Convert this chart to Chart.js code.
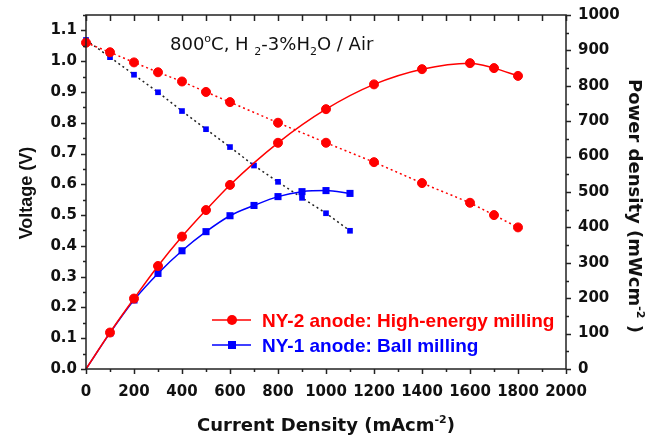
<!DOCTYPE html>
<html>
<head>
<meta charset="utf-8">
<script src="https://cdn.jsdelivr.net/npm/chart.js@4.4.1/dist/chart.umd.min.js"></script>
<style>
  html, body { margin: 0; padding: 0; background: #fff; }
  #wrap { width: 665px; height: 439px; }
</style>
</head>
<body>
<div id="wrap"><canvas id="chart" width="665" height="439"></canvas></div>
<script>
// data (current in mA/cm2, voltage in V, power in mW/cm2)
const currentNY2 = [0, 100, 200, 300, 400, 500, 600, 800, 1000, 1200, 1400, 1600, 1700, 1800];
const voltageNY2 = [1.06, 1.029, 0.996, 0.964, 0.934, 0.900, 0.867, 0.800, 0.735, 0.672, 0.604, 0.540, 0.500, 0.460];
const powerNY2 = [0, 103, 199, 291, 374, 449, 520, 639, 734, 804, 847, 864, 850, 828];

const currentNY1 = [0, 100, 200, 300, 400, 500, 600, 700, 800, 900, 1000, 1100];
const voltageNY1 = [1.069, 1.013, 0.956, 0.899, 0.838, 0.779, 0.721, 0.661, 0.608, 0.556, 0.506, 0.449];
const powerNY1 = [0, 102, 195, 270, 334, 388, 433, 462, 487, 501, 504, 496];

const labelNY2 = 'NY-2 anode: High-energy milling';
const labelNY1 = 'NY-1 anode: Ball milling';

const xRange = [0, 2000];
const voltRange = [0, 1.15];
const powerRange = [0, 1000];

const RED = '#ff0000';
const BLUE = '#0000ff';
const TICK_FONT = { family: 'DejaVu Sans', size: 15, weight: 'bold' };

function pts(xs, ys) {
    return xs.map((x, i) => ({ x: x, y: ys[i] }));
}

// draw a string made of normal / superscript / subscript parts
function richText(ctx, parts, x, y, size, weight, align) {
    const fam = 'DejaVu Sans';
    const widths = parts.map(p => {
        ctx.font = `${weight} ${p.s ? Math.round(size * 0.62) : size}px "${fam}"`;
        return ctx.measureText(p.t).width;
    });
    const total = widths.reduce((a, b) => a + b, 0);
    let cx = align === 'center' ? x - total / 2 : x;
    parts.forEach((p, i) => {
        ctx.font = `${weight} ${p.s ? Math.round(size * 0.62) : size}px "${fam}"`;
        let dy = 0;
        if (p.s === 'sup') dy = -size * 0.45;
        if (p.s === 'sub') dy = size * 0.3;
        ctx.fillText(p.t, cx, y + dy);
        cx += widths[i];
    });
    return total;
}

// keep the plot box where the figure has it
function noPad(s) {
    s.paddingTop = 0; s.paddingBottom = 0;
    s.paddingLeft = 0; s.paddingRight = 0;
}

const decor = {
    id: 'decor',
    afterDraw(chart) {
        const { ctx, chartArea: a } = chart;
        const sx = chart.scales.x, sy = chart.scales.y, sy2 = chart.scales.y2;
        ctx.save();

        // frame + ticks
        ctx.strokeStyle = '#222';
        ctx.lineWidth = 1.5;
        ctx.strokeRect(a.left, a.top, a.right - a.left, a.bottom - a.top);
        ctx.beginPath();
        for (let v = xRange[0]; v <= xRange[1]; v += 100) {
            const px = Math.round(sx.getPixelForValue(v)) + 0.5;
            const len = v % 200 === 0 ? 5 : 3;
            ctx.moveTo(px, a.bottom); ctx.lineTo(px, a.bottom + len);
            ctx.moveTo(px, a.top); ctx.lineTo(px, a.top + 6);
        }
        for (let k = 0; k <= 23; k++) {
            const py = Math.round(sy.getPixelForValue(k * 0.05)) + 0.5;
            const len = k % 2 === 0 ? 5 : 3;
            ctx.moveTo(a.left, py); ctx.lineTo(a.left - len, py);
        }
        for (let v = powerRange[0]; v <= powerRange[1]; v += 50) {
            const py = Math.round(sy2.getPixelForValue(v)) + 0.5;
            const len = v % 100 === 0 ? 5 : 3;
            ctx.moveTo(a.right, py); ctx.lineTo(a.right + len, py);
        }
        ctx.stroke();

        ctx.fillStyle = '#111';
        ctx.textBaseline = 'alphabetic';
        ctx.textAlign = 'left';

        // condition label
        richText(ctx, [
            { t: '800' }, { t: 'o', s: 'sup' }, { t: 'C, H ' }, { t: '2', s: 'sub' },
            { t: '-3%H' }, { t: '2', s: 'sub' }, { t: 'O / Air' }
        ], 170, 50, 18, 'normal', 'left');

        // x title
        richText(ctx, [
            { t: 'Current Density (mAcm' }, { t: '-2', s: 'sup' }, { t: ')' }
        ], (a.left + a.right) / 2, 431, 18, 'bold', 'center');

        // left title
        ctx.save();
        ctx.translate(32, 193);
        ctx.rotate(-Math.PI / 2);
        ctx.textAlign = 'center';
        ctx.font = 'bold 18px "Liberation Sans"';
        ctx.fillText('Voltage (V)', 0, 0);
        ctx.restore();

        // right title
        ctx.save();
        ctx.translate(629, 206);
        ctx.rotate(Math.PI / 2);
        ctx.textAlign = 'left';
        const parts = [{ t: 'Power density (mWcm' }, { t: '-2', s: 'sup' }, { t: ' )' }];
        ctx.globalAlpha = 0;
        const w = richText(ctx, parts, 0, 0, 18, 'bold', 'left');
        ctx.globalAlpha = 1;
        richText(ctx, parts, -w / 2, 0, 18, 'bold', 'left');
        ctx.restore();

        // legend
        const rows = [
            { ds: chart.data.datasets[0], y: 320 },
            { ds: chart.data.datasets[1], y: 345 }
        ];
        rows.forEach(r => {
            ctx.strokeStyle = r.ds.borderColor;
            ctx.lineWidth = 1.5;
            ctx.beginPath();
            ctx.moveTo(212, r.y); ctx.lineTo(251, r.y);
            ctx.stroke();
            ctx.fillStyle = r.ds.pointBackgroundColor;
            ctx.beginPath();
            if (r.ds.pointStyle === 'rect') {
                ctx.rect(232 - 4, r.y - 4, 8, 8);
            } else {
                ctx.arc(232, r.y, 5, 0, Math.PI * 2);
            }
            ctx.fill();
            ctx.font = 'bold 19px "Liberation Sans"';
            ctx.fillText(r.ds.label, 262, r.y + 7);
        });

        ctx.restore();
    }
};

new Chart(document.getElementById('chart'), {
    type: 'scatter',
    data: {
        datasets: [
            {
                label: labelNY2,
                data: pts(currentNY2, powerNY2),
                yAxisID: 'y2',
                showLine: true,
                borderColor: RED,
                borderWidth: 1.5,
                pointBackgroundColor: RED,
                pointBorderColor: RED,
                pointStyle: 'circle',
                pointRadius: ctx => ctx.dataIndex === 0 ? 0 : 4.5,
                pointBorderWidth: 1,
                cubicInterpolationMode: 'monotone',
                clip: false
            },
            {
                label: labelNY1,
                data: pts(currentNY1, powerNY1),
                yAxisID: 'y2',
                showLine: true,
                borderColor: BLUE,
                borderWidth: 1.5,
                pointBackgroundColor: BLUE,
                pointBorderColor: BLUE,
                pointStyle: 'rect',
                pointRadius: ctx => ctx.dataIndex === 0 ? 0 : 5,
                pointBorderWidth: 0,
                cubicInterpolationMode: 'monotone',
                clip: false
            },
            {
                label: labelNY2 + ' (V)',
                data: pts(currentNY2, voltageNY2),
                yAxisID: 'y',
                showLine: true,
                borderColor: RED,
                borderWidth: 1.5,
                borderDash: [2, 3],
                pointBackgroundColor: RED,
                pointBorderColor: RED,
                pointStyle: 'circle',
                pointRadius: 4.5,
                pointBorderWidth: 1,
                clip: false
            },
            {
                label: labelNY1 + ' (V)',
                data: pts(currentNY1, voltageNY1),
                yAxisID: 'y',
                showLine: true,
                borderColor: '#222',
                borderWidth: 1.5,
                borderDash: [2, 3],
                pointBackgroundColor: BLUE,
                pointBorderColor: BLUE,
                pointStyle: 'rect',
                pointRadius: 4,
                pointBorderWidth: 0,
                clip: false
            }
        ]
    },
    options: {
        responsive: false,
        animation: false,
        devicePixelRatio: 1,
        layout: { padding: { top: 15, left: 0, right: 0, bottom: 0 } },
        plugins: { legend: { display: false }, tooltip: { enabled: false } },
        scales: {
            x: {
                type: 'linear',
                position: 'bottom',
                min: xRange[0],
                max: xRange[1],
                grid: { display: false, drawTicks: false },
                border: { display: false },
                ticks: {
                    stepSize: 200, font: TICK_FONT, color: '#111', padding: 14, maxRotation: 0,
                    callback: v => String(v)
                },
                afterFit: s => { s.height = 70; noPad(s); }
            },
            y: {
                type: 'linear',
                position: 'left',
                min: voltRange[0],
                max: voltRange[1],
                grid: { display: false, drawTicks: false },
                border: { display: false },
                ticks: {
                    stepSize: 0.1, includeBounds: false, font: TICK_FONT, color: '#111', padding: 9,
                    callback: v => v.toFixed(1)
                },
                afterFit: s => { s.width = 86; noPad(s); }
            },
            y2: {
                type: 'linear',
                position: 'right',
                min: powerRange[0],
                max: powerRange[1],
                grid: { display: false, drawTicks: false },
                border: { display: false },
                ticks: {
                    stepSize: 100, includeBounds: false, font: TICK_FONT, color: '#111', padding: 12,
                    callback: v => String(v)
                },
                afterFit: s => { s.width = 99; noPad(s); }
            }
        }
    },
    plugins: [decor]
});
</script>
</body>
</html>
